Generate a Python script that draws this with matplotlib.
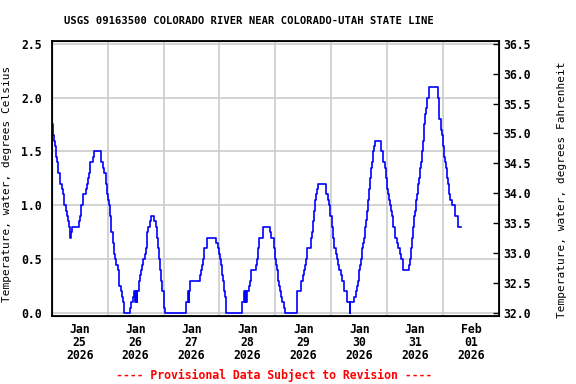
import numpy as np
import pandas as pd
import matplotlib; matplotlib.use("Agg")
import matplotlib.pyplot as plt
import matplotlib.dates as mdates
from matplotlib.ticker import FixedLocator, FormatStrFormatter

plt.rcParams["font.family"] = ["DejaVu Sans Mono"]
plt.rcParams["font.weight"] = "bold"
plt.rcParams["font.size"] = 8

# hours since 2026-01-25 00:00 where the reading changes, and the new value (deg C)
HOURS = [0.0, 0.4, 0.85, 1.3, 1.85, 2.3, 2.85, 3.7, 4.5, 4.9, 5.4, 6.3, 6.7, 7.1, 7.6,
         8.0, 8.4, 8.85, 11.8, 12.3, 12.7, 13.5, 14.6, 15.0, 15.4, 15.9, 16.4, 17.8,
         18.3, 21.1, 22.1, 22.6, 23.1, 23.6, 24.0, 24.4, 24.9, 25.4, 26.3, 26.8, 27.3,
         27.8, 28.3, 28.7, 29.1, 29.6, 30.0, 30.4, 30.9, 33.7, 34.1, 35.0, 35.4, 35.8,
         36.1, 36.5, 36.8, 37.6, 38.0, 38.4, 38.8, 39.4, 39.9, 40.3, 40.7, 41.1, 41.5,
         42.0, 42.7, 43.7, 44.6, 45.1, 45.6, 46.0, 46.5, 47.0, 47.4, 48.0, 48.4, 48.7,
         57.7, 58.6, 58.9, 59.1, 59.4, 63.8, 64.2, 64.6, 65.1, 65.5, 66.6, 70.5, 71.2,
         71.7, 72.1, 72.5, 73.0, 73.4, 73.8, 74.2, 74.7, 81.8, 82.5, 82.8, 83.2, 83.5,
         84.0, 84.7, 85.1, 85.5, 87.6, 88.0, 88.4, 88.8, 90.6, 93.6, 94.0, 95.4, 95.9,
         96.3, 96.8, 97.3, 97.7, 98.2, 98.6, 99.0, 99.5, 100.0, 105.3, 107.1, 107.7,
         108.1, 108.6, 109.1, 109.6, 111.3, 111.7, 112.2, 112.6, 113.0, 113.4, 113.8,
         114.3, 117.7, 118.6, 119.0, 119.4, 120.3, 120.7, 121.2, 122.0, 122.5, 122.9,
         123.3, 124.1, 124.5, 125.4, 126.7, 127.9, 128.2, 129.7, 130.6, 131.0, 131.4,
         131.8, 132.3, 132.7, 133.1, 133.6, 134.0, 134.4, 134.9, 135.3, 135.7, 136.2,
         136.5, 137.0, 137.4, 137.8, 138.2, 138.9, 141.3, 142.3, 143.2, 143.6, 144.0,
         144.5, 144.9, 145.3, 145.7, 146.2, 146.6, 147.4, 148.3, 148.8, 149.6, 150.0,
         150.9, 153.4, 153.9, 154.3, 154.7, 155.1, 155.6, 156.0, 156.4, 156.8, 157.3,
         157.7, 158.1, 158.6, 159.0, 159.4, 159.9, 160.3, 160.7, 161.2, 162.0, 165.8,
         166.1, 166.4, 166.9, 167.4, 167.8, 168.3, 168.7, 169.1, 169.6, 170.0, 170.4,
         171.0, 172.0, 173.3, 174.6, 175.8]
TEMP_C = [1.75, 1.65, 1.60, 1.55, 1.45, 1.40, 1.30, 1.20, 1.15, 1.10, 1.00, 0.95, 0.90, 0.85, 0.80,
          0.70, 0.75, 0.80, 0.85, 0.90, 1.00, 1.10, 1.15, 1.20, 1.25, 1.30, 1.40, 1.45,
          1.50, 1.40, 1.35, 1.30, 1.20, 1.10, 1.05, 1.00, 0.90, 0.75, 0.65, 0.55, 0.50,
          0.45, 0.40, 0.30, 0.25, 0.20, 0.15, 0.10, 0.00, 0.05, 0.10, 0.15, 0.20, 0.10,
          0.20, 0.10, 0.20, 0.30, 0.35, 0.40, 0.45, 0.50, 0.55, 0.60, 0.70, 0.75, 0.80,
          0.85, 0.90, 0.85, 0.80, 0.70, 0.60, 0.50, 0.40, 0.30, 0.20, 0.15, 0.05, 0.00,
          0.10, 0.20, 0.10, 0.20, 0.30, 0.35, 0.40, 0.45, 0.50, 0.60, 0.70, 0.65, 0.60,
          0.55, 0.50, 0.45, 0.35, 0.30, 0.20, 0.15, 0.00, 0.10, 0.20, 0.10, 0.20, 0.10,
          0.20, 0.25, 0.30, 0.40, 0.45, 0.50, 0.60, 0.70, 0.80, 0.75, 0.70, 0.60, 0.50,
          0.45, 0.40, 0.30, 0.25, 0.20, 0.15, 0.10, 0.05, 0.00, 0.20, 0.30, 0.35,
          0.40, 0.45, 0.50, 0.60, 0.70, 0.75, 0.85, 0.95, 1.05, 1.10, 1.15,
          1.20, 1.10, 1.05, 1.00, 0.90, 0.80, 0.70, 0.60, 0.55, 0.50, 0.45,
          0.40, 0.35, 0.30, 0.20, 0.10, 0.00, 0.10, 0.15, 0.20, 0.25, 0.30,
          0.40, 0.45, 0.50, 0.60, 0.65, 0.70, 0.80, 0.86, 0.95, 1.05, 1.15,
          1.25, 1.35, 1.40, 1.50, 1.55, 1.60, 1.50, 1.40, 1.35, 1.25, 1.15,
          1.10, 1.05, 1.00, 0.95, 0.90, 0.80, 0.70, 0.65, 0.60, 0.55, 0.50,
          0.40, 0.45, 0.50, 0.60, 0.70, 0.80, 0.90, 0.95, 1.05, 1.10, 1.20,
          1.25, 1.35, 1.40, 1.50, 1.60, 1.75, 1.85, 1.90, 2.00, 2.10, 2.00,
          1.90, 1.80, 1.70, 1.65, 1.55, 1.45, 1.40, 1.35, 1.25, 1.20, 1.10,
          1.05, 1.00, 0.90, 0.80, 0.80]

START = pd.Timestamp("2026-01-25 00:00")
END = pd.Timestamp("2026-02-02 00:00")
TITLE = "USGS 09163500 COLORADO RIVER NEAR COLORADO-UTAH STATE LINE"
FOOTER = "---- Provisional Data Subject to Revision ----"

times = START + pd.to_timedelta(HOURS, unit="h")

fig = plt.figure(figsize=(5.76, 3.84), dpi=100)
ax = fig.add_axes([51.7/576, 1-316/384, 447.3/576, 275/384])

ax.plot(times, TEMP_C, drawstyle="steps-post", color="#0000ff", lw=1.2, zorder=3)

lo, hi = -0.028, 2.525
ax.set_ylim(lo, hi)
ax.set_xlim(START, END)
ax.set_yticks(np.arange(0, 2.51, 0.5))
ax.yaxis.set_major_formatter(FormatStrFormatter("%.1f"))
ax.tick_params(axis="y", length=0, pad=7, labelsize=8.3)

# labels sit at noon, grid lines at midnight
noons = pd.date_range("2026-01-25 12:00", periods=8, freq="D")
mids = pd.date_range("2026-01-26", periods=7, freq="D")
ax.xaxis.set_major_locator(FixedLocator(mdates.date2num(noons)))
ax.xaxis.set_major_formatter(mdates.DateFormatter("%b\n%d\n%Y"))
ax.xaxis.set_minor_locator(FixedLocator(mdates.date2num(mids)))
ax.tick_params(axis="x", which="both", length=0, pad=5, labelsize=8.3)

ax.grid(False)
ax.grid(True, axis="y", which="major", color="#cccccc", lw=1.2, zorder=0)
ax.grid(True, axis="x", which="minor", color="#cccccc", lw=1.2, zorder=0)
for s in ax.spines.values():
    s.set_linewidth(1.3)

ax.set_ylabel("Temperature, water, degrees Celsius", fontsize=8)
ax.yaxis.set_label_coords(-0.089, 0.48)

ax2 = ax.twinx()
ax2.set_ylim(32 + 1.8*lo, 32 + 1.8*hi)
ax2.set_yticks(np.arange(32, 36.51, 0.5))
ax2.yaxis.set_major_formatter(FormatStrFormatter("%.1f"))
ax2.tick_params(axis="y", direction="in", length=4, width=1, pad=3, labelsize=8.3)
ax2.set_ylabel("Temperature, water, degrees Fahrenheit", fontsize=8)
ax2.yaxis.set_label_coords(1.13, 0.46)

fig.text(249/576, 1-20.7/384, TITLE, ha="center", va="center", fontsize=7.6)
fig.text(274/576, 1-375/384, FOOTER, ha="center", va="center", fontsize=8.3,
         color="#ff0000")

fig.canvas.draw()
for t in ax.get_xticklabels():
    t.set_linespacing(1.0)

fig.savefig("out.png", dpi=100)
